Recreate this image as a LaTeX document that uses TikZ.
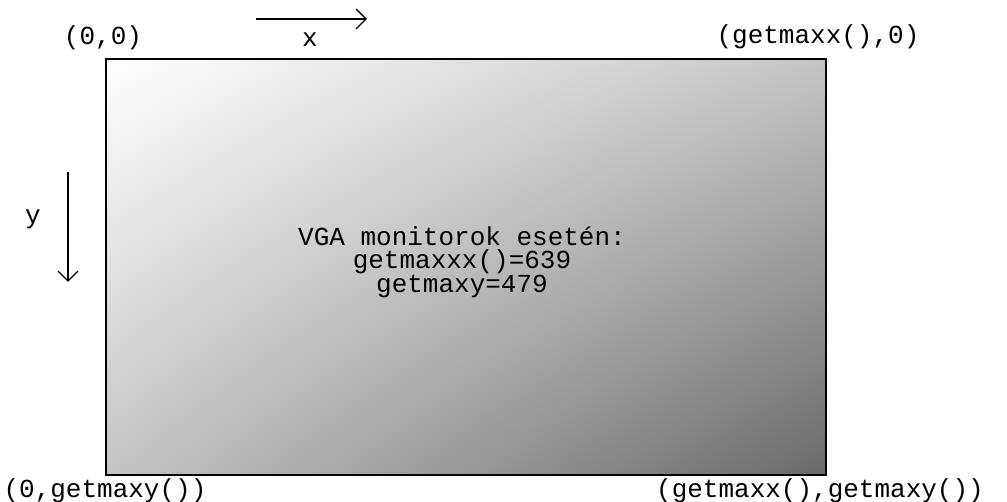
\documentclass[tikz,border=0pt]{standalone}
\usepackage{fontspec}
\setmonofont{Liberation Mono}
\usetikzlibrary{arrows.meta,shadings}
\definecolor{cornergray}{HTML}{C4C4C4}
\definecolor{darkcorner}{HTML}{6A6A6A}
\tikzset{
  lbl/.style={font=\ttfamily\fontsize{26}{30}\selectfont, inner sep=0pt, text=black},
  axisarrow/.style={line width=1.3pt, -{Straight Barb[length=10pt,width=20pt,line width=1.3pt]}},
}
\begin{document}
\begin{tikzpicture}[x=1pt,y=-1pt]
\useasboundingbox (0,0) rectangle (1007,502);
\coordinate (tl) at (106,59);
\coordinate (br) at (826,475);
\shade[upper left=white, upper right=cornergray, lower left=cornergray, lower right=darkcorner] (tl) rectangle (br);
\draw[line width=2pt] (tl) rectangle (br);
\node[lbl, anchor=center] (c1) at (462,236) {VGA monitorok esetén:};
\node[lbl, anchor=center] (c2) at (462,262) {getmaxxx()=639};
\node[lbl, anchor=center] (c3) at (462,287) {getmaxy=479};
\coordinate (xs) at (256,19);
\coordinate (xe) at (367,19);
\draw[axisarrow] (xs) -- (xe);
\node[lbl] (xl) at (310,40) {x};
\coordinate (ys) at (68,172);
\coordinate (ye) at (68,282);
\draw[axisarrow] (ys) -- (ye);
\node[lbl] (yl) at (33,219) {y};
\node[lbl] (p00) at (103,38) {(0,0)};
\node[lbl] (pm0) at (818,37) {(getmaxx(),0)};
\node[lbl] (p0m) at (105,491) {(0,getmaxy())};
\node[lbl] (pmm) at (820,491) {(getmaxx(),getmaxy())};
\end{tikzpicture}
\end{document}
